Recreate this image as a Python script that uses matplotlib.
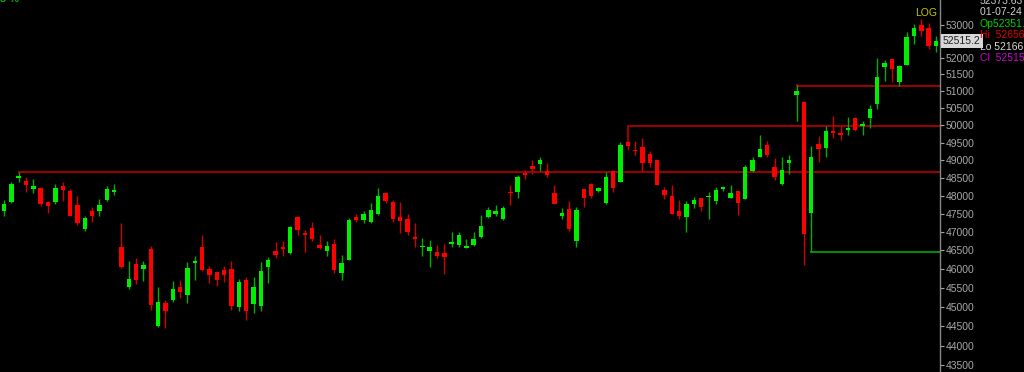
import numpy as np
import matplotlib.pyplot as plt
from matplotlib.ticker import FixedLocator, NullLocator, NullFormatter

# Daily OHLC candles (oldest first)
opens = [47580, 47830, 48500, 48410, 48190, 48220, 47830, 47830, 48270, 48130,
         47740, 47080, 47580, 47580, 47880, 48100, 46590, 45520, 46140, 46000,
         46540, 44510, 45100, 45180, 45520, 45320, 46160, 46590, 46000, 45920,
         45980, 46000, 45000, 45710, 45080, 45020, 46060, 46480, 46590, 46430,
         47410, 46970, 47110, 46650, 46480, 46670, 45900, 46240, 47410, 47330,
         47280, 47500, 48080, 47830, 47410, 47360, 46860, 46590, 46480, 46460,
         46430, 46670, 46650, 46570, 46650, 46860, 47410, 47500, 47360, 48100,
         48100, 48640, 48840, 48890, 48700, 48080, 47440, 47630, 46760, 48190,
         48330, 48130, 47800, 48700, 48390, 49520, 49290, 49380, 49180, 49010,
         48160, 47990, 47580, 47410, 47770, 47940, 47960, 47850, 48190, 47940,
         48130, 47910, 48700, 49090, 49430, 48810, 48330, 48920, 50890, 50690,
         47520, 49460, 49350, 49830, 49780, 49870, 50220, 49980, 50220, 50630,
         51720, 51960, 51280, 51780, 52660, 53000, 52910, 52351]
highs = [47880, 48390, 48670, 48530, 48470, 48230, 47840, 48330, 48390, 48190,
         47990, 47440, 47690, 47910, 48270, 48330, 47250, 46220, 46300, 46220,
         46620, 45520, 45180, 45680, 45710, 46190, 46350, 46920, 46080, 45930,
         46080, 46220, 45740, 45790, 45790, 46190, 46320, 46730, 46760, 47170,
         47420, 47060, 47280, 46920, 46760, 46810, 46380, 47380, 47500, 47580,
         47800, 48220, 48090, 47880, 47830, 47500, 47250, 46840, 46780, 46650,
         46670, 47000, 47000, 46810, 47000, 47470, 47690, 47740, 47720, 48300,
         48580, 48720, 49010, 49090, 48920, 48300, 47660, 47850, 47690, 48200,
         48360, 48240, 48670, 48710, 49520, 49530, 49550, 49640, 49260, 49040,
         48240, 48300, 47880, 47850, 47960, 47950, 48100, 48240, 48250, 48300,
         48140, 48860, 49090, 49720, 49550, 49060, 49090, 49150, 51190, 50700,
         49410, 49690, 49980, 50280, 49980, 50250, 50230, 50130, 50600, 51990,
         51930, 51970, 51780, 52790, 53030, 53180, 53060, 52656]
lows = [47440, 47810, 48380, 48100, 48080, 47720, 47520, 47770, 47850, 47430,
        47190, 47030, 47270, 47440, 47850, 48020, 46030, 45470, 45600, 45680,
        44920, 44480, 44450, 45130, 45230, 45100, 45710, 45950, 45630, 45550,
        45660, 44920, 44890, 44660, 44840, 44890, 45630, 46300, 46350, 46400,
        46920, 46460, 46760, 46540, 46350, 45900, 45710, 46230, 47270, 47250,
        47250, 47470, 47800, 47270, 46970, 46920, 46590, 46350, 46060, 46300,
        45870, 46590, 46590, 46560, 46620, 46840, 47380, 47440, 47330, 47740,
        47940, 48470, 48610, 48690, 48520, 47770, 47360, 47030, 46590, 47690,
        47940, 48100, 47770, 48100, 48380, 49290, 49150, 48700, 48810, 48290,
        47910, 47490, 47360, 47000, 47660, 47580, 47360, 47770, 48130, 47930,
        47470, 47900, 48670, 49080, 49090, 48440, 48300, 48610, 50130, 46110,
        46460, 48950, 49090, 49640, 49580, 49720, 49840, 49720, 49920, 50480,
        51310, 51280, 51160, 51770, 52420, 52660, 52270, 52166]
closes = [47770, 48330, 48550, 48300, 48270, 47770, 47720, 48220, 48160, 47440,
          47250, 47380, 47440, 47740, 48190, 48160, 46060, 45740, 45710, 46110,
          45050, 45130, 44890, 45470, 45390, 46030, 46220, 45980, 45840, 45710,
          45840, 45020, 45660, 44890, 45520, 45950, 46240, 46380, 46540, 47140,
          47060, 46920, 46810, 46570, 46620, 45980, 46160, 47330, 47330, 47500,
          47610, 47990, 47850, 47360, 47300, 47000, 46810, 46620, 46590, 46350,
          46320, 46730, 46920, 46620, 46810, 47170, 47610, 47580, 47660, 48080,
          48530, 48580, 48750, 49010, 48580, 47770, 47520, 47080, 47600, 47940,
          47990, 48220, 48530, 48220, 49430, 49410, 49260, 48920, 48920, 48300,
          48020, 47500, 47440, 47770, 47880, 47690, 47990, 48160, 48240, 48080,
          47800, 48810, 49010, 49320, 49150, 48530, 48720, 49010, 51010, 46950,
          49090, 49320, 49830, 49770, 49720, 49920, 49870, 50040, 50480, 51430,
          51840, 51660, 51750, 52630, 52910, 52820, 52360, 52515]

# Horizontal support / resistance lines: (start candle, anchor price, level)
red_levels = [(2, 48670, 48660), (85, 49530, 49990), (108, 51190, 51160)]
green_levels = [(110, 46460, 46460)]

# 52500 is hidden behind the last-price box in the original
price_ticks = [t for t in range(43500, 53001, 500) if t != 52500]
last_price = "52515.2"
info_lines = [("52373.63", "#c8c8c8"), ("01-07-24 I", "#d0d0d0"),
              ("Op52351.", "#00d000"), ("Hi  52656.", "#e00000"),
              ("Lo 52166.", "#d8d8d8"), ("Cl  52515.", "#d000d0")]

plt.rcParams['font.family'] = ['Liberation Sans', 'DejaVu Sans']

fig = plt.figure(figsize=(10.24, 3.72), dpi=100, facecolor='black')
ax = fig.add_axes([0, 0, 940 / 1024, 1])
ax.set_facecolor('black')

n = len(opens)
idx = np.arange(n)
o = np.array(opens); h = np.array(highs); l = np.array(lows); c = np.array(closes)
up = c >= o
body_col = np.where(up, '#00ee00', '#ff0000')
wick_col = np.where(up, '#00b000', '#d00000')

ax.vlines(idx, l, h, colors=wick_col, linewidth=1.0, zorder=2)
ax.bar(idx, np.abs(c - o) + 8, bottom=np.minimum(o, c) - 4, width=0.6,
       color=body_col, linewidth=0, zorder=3)

right = n - 1 + 0.545
for start, anchor, level in red_levels:
    ax.plot([start, start, right], [anchor, level, level], color='#a00000',
            linewidth=1.4, zorder=1)
for start, anchor, level in green_levels:
    ax.plot([start, start, right], [anchor, level, level], color='#009000',
            linewidth=1.4, zorder=1)

ax.set_xlim(-0.545, right)
ax.set_yscale('log')
ax.set_ylim(43332, 53775)

ax.yaxis.tick_right()
ax.yaxis.set_major_locator(FixedLocator(price_ticks))
ax.yaxis.set_minor_locator(NullLocator())
ax.yaxis.set_minor_formatter(NullFormatter())
ax.set_yticklabels([str(t) for t in price_ticks])
ax.tick_params(axis='y', colors='#a8a8a8', labelcolor='#a8a8a8', length=3,
               width=0.8, pad=1, labelsize=7.5)
ax.set_xticks([])
for side in ['top', 'bottom', 'left']:
    ax.spines[side].set_visible(False)
ax.spines['right'].set_color('#888888')
ax.spines['right'].set_linewidth(1.0)

# last price label box
ax.text(1.003, closes[-1], last_price, transform=ax.get_yaxis_transform(),
        ha='left', va='center', fontsize=7.5, color='#202020',
        bbox=dict(boxstyle='square,pad=0.2', facecolor='#d8d8d8',
                  edgecolor='none'), clip_on=False, zorder=5)

ax.text(0.997, 0.965, "LOG", transform=ax.transAxes, ha='right', va='center',
        fontsize=7.5, color='#c8c800')
fig.text(0.0, 1.0 + 1 / 372, "3 %", ha='left', va='center', fontsize=8,
         color='#00b000', fontweight='bold')

for k, (txt, col) in enumerate(info_lines):
    fig.text(980 / 1024, 1 - (1 + 11.4 * k) / 372, txt, ha='left',
             va='center', fontsize=7.5, color=col)

fig.savefig('out.png', dpi=100, facecolor='black')
